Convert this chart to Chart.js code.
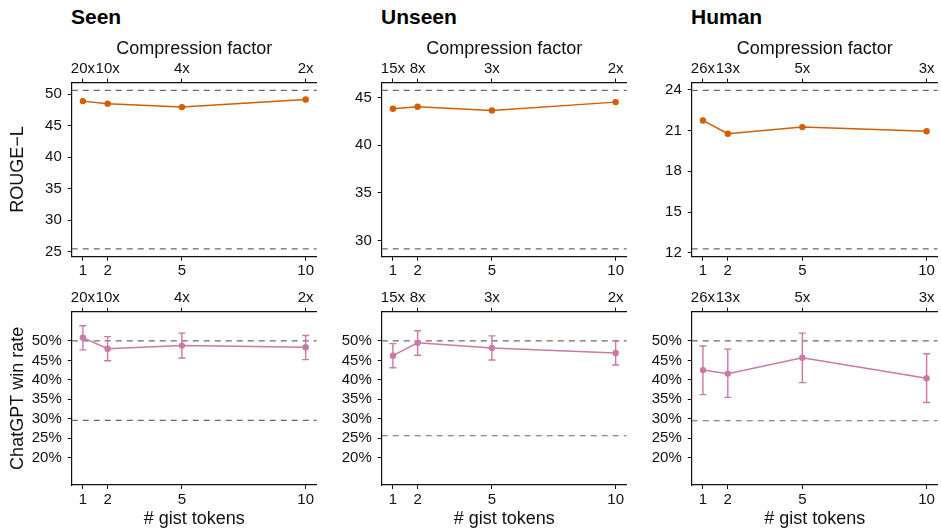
<!DOCTYPE html>
<html><head><meta charset="utf-8">
<script src="https://cdn.jsdelivr.net/npm/chart.js@4"></script>
<style>
html,body{margin:0;padding:0;background:#fff;}
body{width:941px;height:531px;position:relative;overflow:hidden;font-family:"Liberation Sans",Arial,sans-serif;}
canvas{position:absolute;}
.ttl{position:absolute;top:5.5px;font-weight:bold;font-size:21px;line-height:21px;color:#000;}
</style></head><body>
<div class="ttl" style="left:71px">Seen</div>
<div class="ttl" style="left:381px">Unseen</div>
<div class="ttl" style="left:691px">Human</div>
<canvas id="c0" width="320" height="260" style="left:0px;top:30px"></canvas>
<canvas id="c1" width="310" height="260" style="left:320px;top:30px"></canvas>
<canvas id="c2" width="311" height="260" style="left:630px;top:30px"></canvas>
<canvas id="c3" width="320" height="241" style="left:0px;top:290px"></canvas>
<canvas id="c4" width="310" height="241" style="left:320px;top:290px"></canvas>
<canvas id="c5" width="311" height="241" style="left:630px;top:290px"></canvas>
<script>
// ---------- data ----------
const panelTitles = ['Seen', 'Unseen', 'Human'];
const gistTokens = [1, 2, 5, 10];
const compressionSeen = ['20x', '10x', '4x', '2x'];
const compressionUnseen = ['15x', '8x', '3x', '2x'];
const compressionHuman = ['26x', '13x', '5x', '3x'];

const rougeSeen = [48.9, 48.5, 47.95, 49.15];
const rougeUnseen = [43.84, 44.05, 43.66, 44.54];
const rougeHuman = [21.74, 20.76, 21.25, 20.95];
const rougeRefSeen = [50.6, 25.45];     // upper / lower reference
const rougeRefUnseen = [45.77, 29.13];
const rougeRefHuman = [23.95, 12.3];
const rougeTicksSeen = [25, 30, 35, 40, 45, 50];
const rougeTicksUnseen = [30, 35, 40, 45];
const rougeTicksHuman = [12, 15, 18, 21, 24];

const winSeen = [50.85, 48.0, 48.8, 48.4];
const winSeenLo = [47.7, 44.9, 45.6, 45.2];
const winSeenHi = [53.9, 51.1, 52.0, 51.4];
const winUnseen = [46.2, 49.5, 48.2, 46.9];
const winUnseenLo = [43.1, 46.3, 45.1, 43.8];
const winUnseenHi = [49.3, 52.6, 51.3, 50.0];
const winHuman = [42.5, 41.6, 45.7, 40.4];
const winHumanLo = [36.2, 35.5, 39.3, 34.2];
const winHumanHi = [48.7, 47.9, 52.0, 46.7];
const winRefSeen = [50, 29.6];
const winRefUnseen = [50, 25.65];
const winRefHuman = [50, 29.5];
const winTicks = [20, 25, 30, 35, 40, 45, 50];

// ---------- style ----------
const ORANGE = '#D55E00', PINK = '#CC79A7', REF = '#6a6a6a', INK = '#111';
const FONT = "'Liberation Sans', Arial, sans-serif";
const X_MIN = 0.55, X_MAX = 10.45;

const errorBars = {
  id: 'errorBars',
  afterDatasetsDraw(chart) {
    const ctx = chart.ctx, xs = chart.scales.x, ys = chart.scales.y;
    chart.data.datasets.forEach(ds => {
      if (!ds.errLo) return;
      ctx.save();
      ctx.strokeStyle = ds.borderColor; ctx.lineWidth = 1.4;
      ds.data.forEach((p, i) => {
        const x = xs.getPixelForValue(p.x);
        const y1 = ys.getPixelForValue(ds.errLo[i]);
        const y2 = ys.getPixelForValue(ds.errHi[i]);
        ctx.beginPath();
        ctx.moveTo(x, y1); ctx.lineTo(x, y2);
        ctx.moveTo(x - 3.5, y1); ctx.lineTo(x + 3.5, y1);
        ctx.moveTo(x - 3.5, y2); ctx.lineTo(x + 3.5, y2);
        ctx.stroke();
      });
      ctx.restore();
    });
  }
};

function axisCommon() {
  return {
    grid: { drawOnChartArea: false, drawTicks: true, tickLength: 4, tickColor: INK, tickWidth: 1 },
    border: { display: true, color: INK, width: 1.2 },
  };
}

function panel(o) {
  const yMin = o.yMin, yMax = o.yMax;
  const datasets = [{
    data: gistTokens.map((x, i) => ({ x, y: o.values[i] })),
    borderColor: o.color, backgroundColor: o.color,
    borderWidth: 1.5, pointRadius: 3.2, pointBorderWidth: 0, pointHoverRadius: 3.2,
    errLo: o.lo, errHi: o.hi
  }];
  o.refs.forEach(r => datasets.push({
    data: [{ x: X_MIN, y: r }, { x: X_MAX, y: r }],
    borderColor: REF, borderWidth: 1.2, borderDash: [6, 5], pointRadius: 0
  }));
  const tickFont = { size: 15, family: FONT };
  const titleFont = { size: 18, family: FONT };
  new Chart(document.getElementById(o.id), {
    type: 'line',
    data: { datasets },
    plugins: [errorBars],
    options: {
      responsive: false, animation: false,
      layout: { padding: { left: 0, top: 0, bottom: 0, right: o.left + o.width - o.plotRight } },
      plugins: { legend: { display: false }, tooltip: { enabled: false } },
      scales: {
        x: Object.assign(axisCommon(), {
          type: 'linear', position: 'bottom', min: X_MIN, max: X_MAX,
          afterBuildTicks: s => { s.ticks = gistTokens.map(v => ({ value: v })); },
          afterFit: s => { s.height = o.top + o.height - o.plotBottom; },
          ticks: { autoSkip: false, maxRotation: 0, padding: 1.5, font: tickFont, color: INK,
                   callback: (v) => String(v) },
          title: { display: !!o.bottomTitle, text: o.bottomTitle || '', font: titleFont, color: INK,
                   padding: { top: 0, bottom: 1 } }
        }),
        x2: Object.assign(axisCommon(), {
          type: 'linear', position: 'top', min: X_MIN, max: X_MAX,
          afterBuildTicks: s => { s.ticks = gistTokens.map(v => ({ value: v })); },
          afterFit: s => { s.height = o.plotTop - o.top; },
          ticks: { autoSkip: false, maxRotation: 0, padding: 1, font: tickFont, color: INK,
                   callback: (v, i) => o.comp[i] },
          title: { display: !!o.topTitle, text: o.topTitle || '', font: titleFont, color: INK,
                   padding: { top: 8, bottom: 0 } }
        }),
        y: Object.assign(axisCommon(), {
          type: 'linear', position: 'left', min: yMin, max: yMax,
          afterBuildTicks: s => { s.ticks = o.yTicks.map(v => ({ value: v })); },
          afterFit: s => { s.width = o.plotLeft - o.left; },
          ticks: { padding: 6, font: tickFont, color: INK, callback: o.yFmt },
          title: { display: !!o.yTitle, text: o.yTitle || '', font: titleFont, color: INK,
                   padding: { top: 7, bottom: 0 } }
        })
      }
    }
  });
}

function padRange(refs) {
  const hi = Math.max(...refs), lo = Math.min(...refs), span = hi - lo;
  return [lo - 0.05 * span, hi + 0.05 * span];
}

const cols = [
  { left: 0, width: 320, plotLeft: 71.75, plotRight: 319.25 },
  { left: 320, width: 310, plotLeft: 381.75, plotRight: 629.5 },
  { left: 630, width: 311, plotLeft: 691.75, plotRight: 939.5 }
];
const topRow = { top: 30, height: 260, plotTop: 82.5, plotBottom: 256.7 };
const botRow = { top: 290, height: 241, plotTop: 311.7, plotBottom: 485 };

const rougeSets = [
  [rougeSeen, rougeRefSeen, rougeTicksSeen, compressionSeen],
  [rougeUnseen, rougeRefUnseen, rougeTicksUnseen, compressionUnseen],
  [rougeHuman, rougeRefHuman, rougeTicksHuman, compressionHuman]
];
rougeSets.forEach((s, c) => {
  const [mn, mx] = padRange(s[1]);
  panel(Object.assign({}, cols[c], topRow, {
    id: 'c' + c, values: s[0], refs: s[1], yTicks: s[2], comp: s[3],
    yMin: mn, yMax: mx, color: ORANGE, yFmt: v => String(v),
    topTitle: 'Compression factor', yTitle: c === 0 ? 'ROUGE\u2212L' : ''
  }));
});

const winSets = [
  [winSeen, winSeenLo, winSeenHi, winRefSeen, compressionSeen],
  [winUnseen, winUnseenLo, winUnseenHi, winRefUnseen, compressionUnseen],
  [winHuman, winHumanLo, winHumanHi, winRefHuman, compressionHuman]
];
winSets.forEach((s, c) => {
  panel(Object.assign({}, cols[c], botRow, {
    id: 'c' + (c + 3), values: s[0], lo: s[1], hi: s[2], refs: s[3], comp: s[4],
    yTicks: winTicks, yMin: 13, yMax: 57.5, color: PINK, yFmt: v => v + '%',
    bottomTitle: '# gist tokens', yTitle: c === 0 ? 'ChatGPT win rate' : ''
  }));
});
</script>
</body></html>
